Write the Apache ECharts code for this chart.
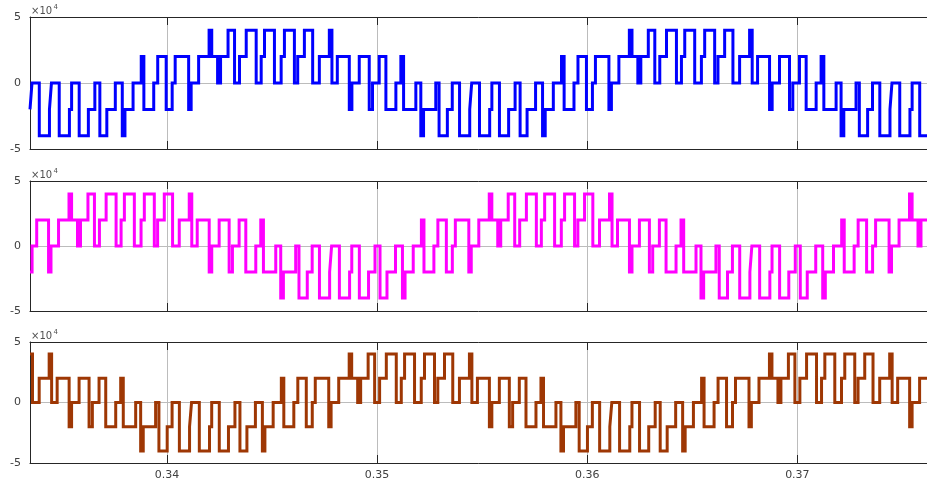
<!DOCTYPE html>
<html>
<head>
<meta charset="utf-8">
<script src="https://cdn.jsdelivr.net/npm/echarts@6/dist/echarts.min.js"></script>
<style>
html,body{margin:0;padding:0;background:#fff;}
#main{width:927px;height:483px;}
</style>
</head>
<body>
<div id="main"></div>
<script>
// time axis in s, voltages in V (axis shows x10^4)
var xMin = 0.333481, xMax = 0.376169;
var xTicks = [0.34, 0.35, 0.36, 0.37];
var yTicks = [-50000, 0, 50000];

// step points [time, level]
var blueSteps = [
[0.333481,-2e4],[0.333576,0],[0.333923,-4e4],[0.334407,-2e4],[0.334502,0],[0.334872,-4e4],[0.335357,-2e4],[0.335461,0],[0.335822,-4e4],[0.336259,-2e4],
[0.336567,0],[0.336805,-4e4],[0.337137,-2e4],[0.337541,0],[0.337873,-4e4],[0.338000,-2e4],[0.338386,0],[0.338775,2e4],[0.338900,-2e4],[0.339369,0],
[0.339559,2e4],[0.339962,-2e4],[0.340247,0],[0.340390,2e4],[0.341031,-2e4],[0.341150,0],[0.341506,2e4],[0.342004,4e4],[0.342130,2e4],[0.342408,0],
[0.342550,2e4],[0.342906,4e4],[0.343215,0],[0.343452,2e4],[0.343771,4e4],[0.344245,0],[0.344483,2e4],[0.344640,4e4],[0.345114,0],[0.345433,2e4],
[0.345589,4e4],[0.346064,0],[0.346221,2e4],[0.346539,4e4],[0.346933,0],[0.347251,2e4],[0.347726,4e4],[0.347850,0],[0.348106,2e4],[0.348676,-2e4],
[0.348800,0],[0.349150,2e4],[0.349625,-2e4],[0.349782,0],[0.350100,2e4],[0.350418,-2e4],[0.350893,0],[0.351130,2e4],[0.351260,-2e4],[0.351843,0],
[0.352080,-4e4],[0.352210,-2e4],[0.352792,0],[0.352949,-4e4],[0.353343,-2e4],
[0.353576,0],[0.353923,-4e4],[0.354407,-2e4],[0.354502,0],[0.354872,-4e4],[0.355357,-2e4],[0.355461,0],[0.355822,-4e4],[0.356259,-2e4],
[0.356567,0],[0.356805,-4e4],[0.357137,-2e4],[0.357541,0],[0.357873,-4e4],[0.358000,-2e4],[0.358386,0],[0.358775,2e4],[0.358900,-2e4],[0.359369,0],
[0.359559,2e4],[0.359962,-2e4],[0.360247,0],[0.360390,2e4],[0.361031,-2e4],[0.361150,0],[0.361506,2e4],[0.362004,4e4],[0.362130,2e4],[0.362408,0],
[0.362550,2e4],[0.362906,4e4],[0.363215,0],[0.363452,2e4],[0.363771,4e4],[0.364245,0],[0.364483,2e4],[0.364640,4e4],[0.365114,0],[0.365433,2e4],
[0.365589,4e4],[0.366064,0],[0.366221,2e4],[0.366539,4e4],[0.366933,0],[0.367251,2e4],[0.367726,4e4],[0.367850,0],[0.368106,2e4],[0.368676,-2e4],
[0.368800,0],[0.369150,2e4],[0.369625,-2e4],[0.369782,0],[0.370100,2e4],[0.370418,-2e4],[0.370893,0],[0.371130,2e4],[0.371260,-2e4],[0.371843,0],
[0.372080,-4e4],[0.372210,-2e4],[0.372792,0],[0.372949,-4e4],[0.373343,-2e4],
[0.373576,0],[0.373923,-4e4],[0.374407,-2e4],[0.374502,0],[0.374872,-4e4],[0.375357,-2e4],[0.375461,0],[0.375822,-4e4]
];

var magentaSteps = [
[0.333481,-2e4],[0.333580,0],[0.333800,2e4],[0.334364,-2e4],[0.334480,0],[0.334839,2e4],[0.335337,4e4],[0.335460,2e4],[0.335741,0],[0.335883,2e4],
[0.336239,4e4],[0.336548,0],[0.336785,2e4],[0.337104,4e4],[0.337578,0],[0.337816,2e4],[0.337973,4e4],[0.338447,0],[0.338766,2e4],[0.338922,4e4],
[0.339397,0],[0.339554,2e4],[0.339872,4e4],[0.340266,0],[0.340584,2e4],[0.341059,4e4],[0.341180,0],[0.341439,2e4],[0.342009,-2e4],[0.342130,0],
[0.342483,2e4],[0.342958,-2e4],[0.343115,0],[0.343433,2e4],[0.343751,-2e4],[0.344226,0],[0.344463,2e4],[0.344590,-2e4],[0.345176,0],[0.345413,-4e4],
[0.345540,-2e4],[0.346125,0],[0.346282,-4e4],[0.346676,-2e4],[0.346909,0],[0.347256,-4e4],[0.347740,-2e4],[0.347835,0],[0.348205,-4e4],[0.348690,-2e4],
[0.348794,0],[0.349155,-4e4],[0.349592,-2e4],[0.349900,0],[0.350138,-4e4],[0.350470,-2e4],[0.350874,0],[0.351206,-4e4],[0.351330,-2e4],[0.351719,0],
[0.352108,2e4],[0.352230,-2e4],[0.352702,0],[0.352892,2e4],[0.353295,-2e4],[0.353580,0],[0.353723,2e4],[0.354364,-2e4],[0.354480,0],[0.354839,2e4],
[0.355337,4e4],[0.355460,2e4],[0.355741,0],[0.355883,2e4],[0.356239,4e4],[0.356548,0],[0.356785,2e4],[0.357104,4e4],[0.357578,0],[0.357816,2e4],
[0.357973,4e4],[0.358447,0],[0.358766,2e4],[0.358922,4e4],[0.359397,0],[0.359554,2e4],[0.359872,4e4],[0.360266,0],[0.360584,2e4],[0.361059,4e4],
[0.361180,0],[0.361439,2e4],[0.362009,-2e4],[0.362130,0],[0.362483,2e4],[0.362958,-2e4],[0.363115,0],[0.363433,2e4],[0.363751,-2e4],[0.364226,0],
[0.364463,2e4],[0.364590,-2e4],[0.365176,0],[0.365413,-4e4],[0.365540,-2e4],[0.366125,0],[0.366282,-4e4],[0.366676,-2e4],[0.366909,0],[0.367256,-4e4],
[0.367740,-2e4],[0.367835,0],[0.368205,-4e4],[0.368690,-2e4],[0.368794,0],[0.369155,-4e4],[0.369592,-2e4],[0.369900,0],[0.370138,-4e4],[0.370470,-2e4],
[0.370874,0],[0.371206,-4e4],[0.371330,-2e4],[0.371719,0],[0.372108,2e4],[0.372230,-2e4],[0.372702,0],[0.372892,2e4],[0.373295,-2e4],[0.373580,0],
[0.373723,2e4],[0.374364,-2e4],[0.374480,0],[0.374839,2e4],[0.375337,4e4],[0.375460,2e4],[0.375741,0],[0.375883,2e4]
];

var brownSteps = [
[0.333481,4e4],[0.333600,0],[0.333918,2e4],[0.334393,4e4],[0.334510,0],[0.334773,2e4],[0.335343,-2e4],[0.335460,0],[0.335817,2e4],[0.336292,-2e4],
[0.336449,0],[0.336767,2e4],[0.337085,-2e4],[0.337560,0],[0.337797,2e4],[0.337920,-2e4],[0.338510,0],[0.338747,-4e4],[0.338870,-2e4],[0.339459,0],
[0.339616,-4e4],[0.340010,-2e4],[0.340243,0],[0.340590,-4e4],[0.341074,-2e4],[0.341169,0],[0.341539,-4e4],[0.342024,-2e4],[0.342128,0],[0.342489,-4e4],
[0.342926,-2e4],[0.343234,0],[0.343472,-4e4],[0.343804,-2e4],[0.344208,0],[0.344540,-4e4],[0.344660,-2e4],[0.345053,0],[0.345442,2e4],[0.345560,-2e4],
[0.346036,0],[0.346226,2e4],[0.346629,-2e4],[0.346914,0],[0.347057,2e4],[0.347698,-2e4],[0.347810,0],[0.348173,2e4],[0.348671,4e4],[0.348790,2e4],
[0.349075,0],[0.349217,2e4],[0.349573,4e4],[0.349882,0],[0.350119,2e4],[0.350438,4e4],[0.350912,0],[0.351150,2e4],[0.351307,4e4],[0.351781,0],
[0.352100,2e4],[0.352256,4e4],[0.352731,0],[0.352888,2e4],[0.353206,4e4],[0.353600,0],[0.353918,2e4],[0.354393,4e4],[0.354510,0],[0.354773,2e4],
[0.355343,-2e4],[0.355460,0],[0.355817,2e4],[0.356292,-2e4],[0.356449,0],[0.356767,2e4],[0.357085,-2e4],[0.357560,0],[0.357797,2e4],[0.357920,-2e4],
[0.358510,0],[0.358747,-4e4],[0.358870,-2e4],[0.359459,0],[0.359616,-4e4],[0.360010,-2e4],[0.360243,0],[0.360590,-4e4],[0.361074,-2e4],[0.361169,0],
[0.361539,-4e4],[0.362024,-2e4],[0.362128,0],[0.362489,-4e4],[0.362926,-2e4],[0.363234,0],[0.363472,-4e4],[0.363804,-2e4],[0.364208,0],[0.364540,-4e4],
[0.364660,-2e4],[0.365053,0],[0.365442,2e4],[0.365560,-2e4],[0.366036,0],[0.366226,2e4],[0.366629,-2e4],[0.366914,0],[0.367057,2e4],[0.367698,-2e4],
[0.367810,0],[0.368173,2e4],[0.368671,4e4],[0.368790,2e4],[0.369075,0],[0.369217,2e4],[0.369573,4e4],[0.369882,0],[0.370119,2e4],[0.370438,4e4],
[0.370912,0],[0.371150,2e4],[0.371307,4e4],[0.371781,0],[0.372100,2e4],[0.372256,4e4],[0.372731,0],[0.372888,2e4],[0.373206,4e4],[0.373600,0],
[0.373918,2e4],[0.374393,4e4],[0.374510,0],[0.374773,2e4],[0.375343,-2e4],[0.375460,0],[0.375817,2e4]
];

var chart = echarts.init(document.getElementById('main'));

var panels = [
	{top: 17, height: 132, steps: blueSteps, color: '#0000ff'},
	{top: 181, height: 130, steps: magentaSteps, color: '#ff00ff'},
	{top: 342, height: 121, steps: brownSteps, color: '#9e3704'}
];

var dark = '#262626';
var gridGray = '#bcbcbc';
var fontFam = 'DejaVu Sans, Liberation Sans, sans-serif';

var grid = [], xAxis = [], yAxis = [], series = [], graphic = [];

panels.forEach(function(p, i){
	grid.push({left: 30, top: p.top, width: 899, height: p.height, show: false});

	// bottom axis (labels only on the last panel)
	xAxis.push({
		type: 'value', gridIndex: i, position: 'bottom',
		min: xMin, max: xMax,
		axisLine: {show: true, onZero: false, lineStyle: {color: dark, width: 1}},
		axisTick: {show: true, inside: true, length: 8, customValues: xTicks, lineStyle: {color: dark, width: 1}},
		axisLabel: {show: i === 2, customValues: xTicks, margin: 7, color: '#404040', fontSize: 11, fontFamily: fontFam,
			formatter: function(v){ return v.toFixed(2); }},
		splitLine: {show: true, lineStyle: {color: gridGray, width: 1}}
	});
	// top axis acts as the upper box edge
	xAxis.push({
		type: 'value', gridIndex: i, position: 'top',
		min: xMin, max: xMax,
		axisLine: {show: true, onZero: false, lineStyle: {color: dark, width: 1}},
		axisTick: {show: true, inside: true, length: 8, customValues: xTicks, lineStyle: {color: dark, width: 1}},
		axisLabel: {show: false},
		splitLine: {show: false}
	});
	yAxis.push({
		type: 'value', gridIndex: i,
		min: -50000, max: 50000, interval: 50000,
		axisLine: {show: true, onZero: false, lineStyle: {color: dark, width: 1}},
		axisTick: {show: true, inside: true, length: 8, lineStyle: {color: dark, width: 1}},
		axisLabel: {margin: 9, color: '#404040', fontSize: 11, fontFamily: fontFam,
			formatter: function(v){ return String(v / 1e4); }},
		splitLine: {show: true, lineStyle: {color: gridGray, width: 1}}
	});

	var last = p.steps[p.steps.length - 1];
	series.push({
		type: 'line', xAxisIndex: i * 2, yAxisIndex: i,
		step: 'end', showSymbol: false, symbol: 'none',
		animation: false, silent: true,
		lineStyle: {color: p.color, width: 3, join: 'miter', cap: 'butt'},
		data: p.steps.concat([[xMax, last[1]]])
	});

	// x10^4 exponent label above each panel
	graphic.push({
		type: 'text', x: 31, y: p.top - 6, silent: true,
		style: {text: '\u00d710', fill: '#505050', font: '10px ' + fontFam, verticalAlign: 'middle', align: 'left'}
	});
	graphic.push({
		type: 'text', x: 53.5, y: p.top - 9.5, silent: true,
		style: {text: '4', fill: '#505050', font: '7px ' + fontFam, verticalAlign: 'middle', align: 'left'}
	});
});

var option = {
	backgroundColor: '#ffffff',
	animation: false,
	grid: grid,
	xAxis: xAxis,
	yAxis: yAxis,
	series: series,
	graphic: graphic
};

chart.setOption(option);
</script>
</body>
</html>
